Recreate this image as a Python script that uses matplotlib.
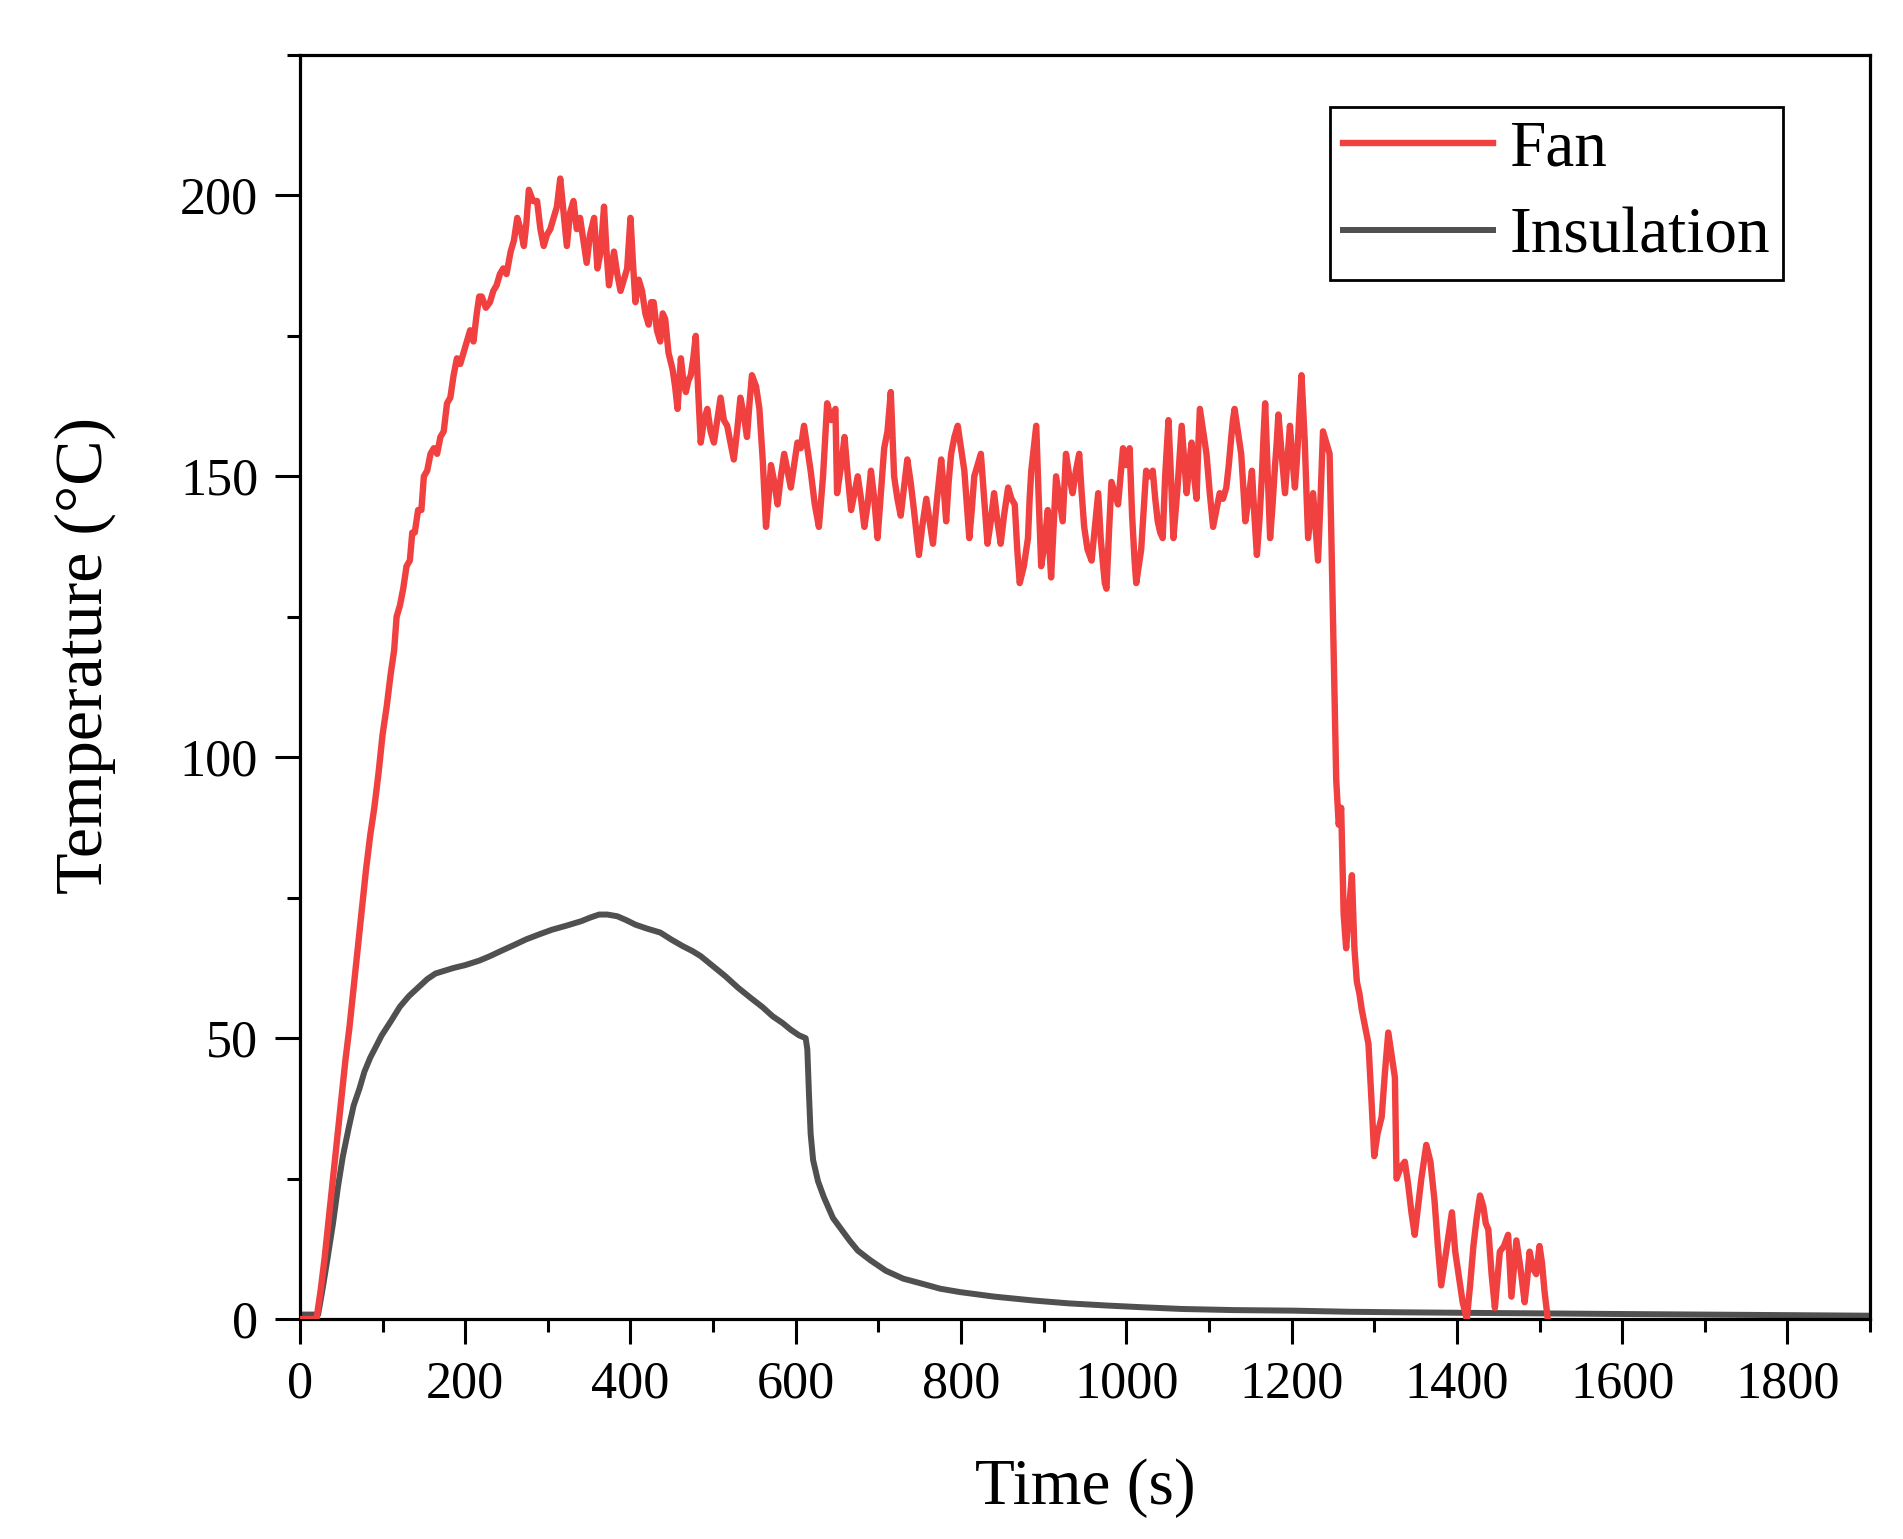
import matplotlib
matplotlib.use("Agg")
import matplotlib.pyplot as plt
from matplotlib.ticker import MultipleLocator

plt.rcParams['font.family'] = ['Liberation Serif', 'DejaVu Serif']

# Fan test: temperature (s, degC)
fan_time = [0, 20, 25, 30, 35, 40, 45, 50, 55, 60, 65, 70, 75, 80, 85, 90, 95, 100, 105, 110,
            114, 117, 121, 125, 129, 133, 136, 139, 143, 147, 150, 154, 158, 162, 166, 170, 174, 178, 182, 186,
            190, 194, 198, 202, 206, 210, 214, 217, 220, 225, 230, 234, 238, 242, 246, 250, 255, 259, 263, 267,
            271, 274, 277, 282, 287, 291, 295, 299, 303, 307, 311, 315, 319, 323, 327, 331, 335, 339, 343, 347,
            351, 356, 360, 364, 368, 371, 374, 377, 380, 384, 388, 392, 396, 400, 403, 406, 410, 414, 418, 422,
            425, 428, 432, 436, 439, 442, 446, 451, 454, 457, 461, 464, 467, 470, 473, 476, 479, 482, 485, 489,
            493, 497, 501, 505, 509, 513, 517, 521, 525, 529, 533, 537, 541, 544, 547, 552, 556, 560, 564, 567,
            570, 574, 578, 582, 586, 590, 594, 598, 602, 606, 610, 614, 618, 623, 628, 633, 638, 643, 648, 650,
            655, 659, 663, 667, 671, 675, 679, 683, 687, 691, 695, 699, 703, 707, 711, 715, 719, 723, 727, 731,
            735, 739, 743, 746, 749, 753, 758, 762, 766, 771, 776, 779, 782, 785, 788, 792, 796, 800, 804, 807,
            810, 813, 816, 820, 824, 828, 832, 836, 840, 844, 848, 852, 857, 861, 865, 868, 871, 876, 881, 883,
            885, 888, 891, 894, 897, 901, 905, 907, 909, 912, 915, 919, 923, 925, 927, 931, 935, 939, 943, 946,
            949, 953, 958, 962, 966, 969, 972, 974, 976, 979, 982, 986, 990, 993, 996, 1000, 1004, 1007, 1010, 1012,
            1015, 1018, 1021, 1024, 1028, 1032, 1035, 1038, 1041, 1044, 1047, 1051, 1054, 1057, 1062, 1067, 1070, 1073, 1076, 1079,
            1082, 1085, 1087, 1089, 1093, 1097, 1101, 1105, 1109, 1113, 1117, 1121, 1124, 1127, 1129, 1131, 1135, 1139, 1142, 1144,
            1148, 1152, 1155, 1158, 1161, 1164, 1166, 1168, 1171, 1174, 1177, 1180, 1182, 1184, 1188, 1192, 1195, 1198, 1201, 1204,
            1206, 1208, 1210, 1212, 1214, 1216, 1218, 1220, 1223, 1226, 1229, 1232, 1235, 1238, 1242, 1246, 1248, 1250, 1252, 1254,
            1257, 1260, 1263, 1266, 1270, 1273, 1276, 1279, 1282, 1285, 1289, 1293, 1297, 1300, 1304, 1309, 1313, 1317, 1321, 1325,
            1327, 1332, 1337, 1341, 1345, 1349, 1353, 1357, 1363, 1368, 1373, 1377, 1381, 1385, 1390, 1394, 1398, 1402, 1407, 1412,
            1416, 1420, 1424, 1428, 1432, 1435, 1438, 1442, 1446, 1449, 1452, 1457, 1462, 1466, 1469, 1472, 1477, 1482, 1485, 1488,
            1492, 1496, 1500, 1503, 1506, 1510]
fan_temp = [0, 0, 5, 11, 18, 25, 32, 39, 46, 52, 59, 66, 73, 80, 86, 91, 97, 104, 109, 115,
            119, 125, 127, 130, 134, 135, 140, 140, 144, 144, 150, 151, 154, 155, 154, 157, 158, 163, 164, 168,
            171, 170, 172, 174, 176, 174, 179, 182, 182, 180, 181, 183, 184, 186, 187, 186, 190, 192, 196, 194,
            191, 195, 201, 199, 199, 194, 191, 193, 194, 196, 198, 203, 197, 191, 197, 199, 194, 196, 192, 188,
            193, 196, 187, 190, 198, 190, 184, 187, 190, 186, 183, 185, 187, 196, 188, 181, 185, 183, 179, 177,
            181, 181, 176, 174, 179, 178, 172, 169, 166, 162, 171, 167, 165, 167, 168, 171, 175, 165, 156, 160,
            162, 158, 156, 160, 164, 160, 159, 156, 153, 158, 164, 161, 157, 163, 168, 166, 162, 153, 141, 146,
            152, 149, 145, 150, 154, 151, 148, 152, 156, 155, 159, 155, 151, 145, 141, 150, 163, 160, 162, 147,
            152, 157, 150, 144, 147, 150, 146, 141, 145, 151, 146, 139, 147, 155, 158, 165, 150, 146, 143, 148,
            153, 149, 144, 140, 136, 141, 146, 142, 138, 146, 153, 148, 142, 149, 154, 157, 159, 155, 151, 145,
            139, 144, 150, 152, 154, 146, 138, 142, 147, 142, 138, 143, 148, 146, 145, 137, 131, 134, 139, 146,
            151, 155, 159, 146, 134, 138, 144, 137, 132, 141, 150, 146, 142, 148, 154, 150, 147, 151, 154, 147,
            141, 137, 135, 141, 147, 139, 134, 131, 130, 140, 149, 147, 145, 150, 155, 152, 155, 143, 135, 131,
            134, 137, 144, 151, 150, 151, 146, 142, 140, 139, 150, 160, 150, 139, 148, 159, 153, 147, 152, 156,
            150, 146, 155, 162, 158, 154, 147, 141, 144, 147, 146, 148, 152, 157, 160, 162, 158, 154, 147, 142,
            146, 151, 143, 136, 142, 150, 157, 163, 151, 139, 145, 152, 156, 161, 154, 147, 153, 159, 153, 148,
            152, 157, 163, 168, 162, 156, 147, 139, 143, 147, 141, 135, 146, 158, 156, 154, 140, 125, 110, 96,
            88, 91, 72, 66, 74, 79, 66, 60, 58, 55, 52, 49, 38, 29, 33, 36, 44, 51, 47, 43,
            25, 27, 28, 24, 19, 15, 20, 25, 31, 28, 21, 13, 6, 10, 15, 19, 12, 8, 3, 0,
            6, 13, 18, 22, 20, 17, 16, 8, 2, 7, 12, 13, 15, 4, 9, 14, 9, 3, 7, 12,
            9, 8, 13, 10, 5, 0]

# Insulation test
ins_time = [0, 22, 27, 33, 40, 46, 52, 59, 65, 72, 78, 85, 92, 99, 110, 121, 132, 143, 154, 164,
            175, 186, 200, 217, 230, 243, 258, 274, 290, 305, 322, 340, 352, 362, 372, 384, 395, 406, 420, 436,
            450, 463, 475, 485, 500, 515, 530, 546, 560, 572, 584, 594, 604, 612, 614, 616, 618, 621, 627, 634,
            645, 656, 665, 675, 690, 709, 730, 754, 775, 799, 840, 888, 930, 978, 1020, 1067, 1130, 1202, 1270, 1336,
            1420, 1515, 1600, 1700, 1800, 1900]
ins_temp = [0.8, 0.8, 5, 10.4, 17, 23.5, 29, 34, 38, 41, 44, 46.5, 48.5, 50.5, 53, 55.6, 57.5, 59, 60.5, 61.5,
            62, 62.5, 63, 63.8, 64.6, 65.5, 66.5, 67.6, 68.5, 69.3, 70, 70.8, 71.5, 72, 72, 71.7, 71, 70.2, 69.5, 68.8,
            67.5, 66.4, 65.5, 64.6, 62.8, 61, 59, 57.1, 55.5, 53.9, 52.7, 51.5, 50.5, 50, 48, 40, 33, 28.3, 24.5, 21.7,
            18, 15.8, 14, 12.2, 10.5, 8.6, 7.2, 6.25, 5.4, 4.8, 4, 3.3, 2.8, 2.4, 2.1, 1.8, 1.6, 1.5, 1.3, 1.2,
            1.1, 1.0, 0.9, 0.8, 0.7, 0.6]

fig = plt.figure(figsize=(19.03, 15.39), dpi=100)
ax = fig.add_axes([0.1576, 0.1429, 0.8251, 0.8214])

ax.plot(ins_time, ins_temp, color='#505050', linewidth=4.3, label='Insulation', zorder=2)
ax.plot(fan_time, fan_temp, color='#F04040', linewidth=4.6, label='Fan', zorder=3)

ax.set_xlim(0, 1900)
ax.set_ylim(0, 225)
ax.xaxis.set_major_locator(MultipleLocator(200))
ax.xaxis.set_minor_locator(MultipleLocator(100))
ax.yaxis.set_major_locator(MultipleLocator(50))
ax.yaxis.set_minor_locator(MultipleLocator(25))

ax.tick_params(which='both', direction='out', top=False, right=False, width=2.2, colors='black')
ax.tick_params(which='major', length=18, labelsize=37.5, pad=12)
ax.tick_params(which='minor', length=9.5)
for sp in ax.spines.values():
    sp.set_linewidth(2.3)

ax.set_xlabel('Time (s)', fontsize=47, labelpad=36)
ax.set_ylabel('Temperature (°C)', fontsize=49)
ax.yaxis.set_label_coords(-0.117, 0.525)

handles, labels = ax.get_legend_handles_labels()
leg = ax.legend(handles[::-1], labels[::-1], loc='upper right', bbox_to_anchor=(0.9446, 0.9589),
                borderaxespad=0, fontsize=47, frameon=True, fancybox=False, framealpha=1,
                edgecolor='black', handlelength=2.3, handletextpad=0.25, borderpad=0.2,
                labelspacing=0.42)
leg.get_frame().set_linewidth(2.0)

fig.savefig('out.png', dpi=100, facecolor='white')
